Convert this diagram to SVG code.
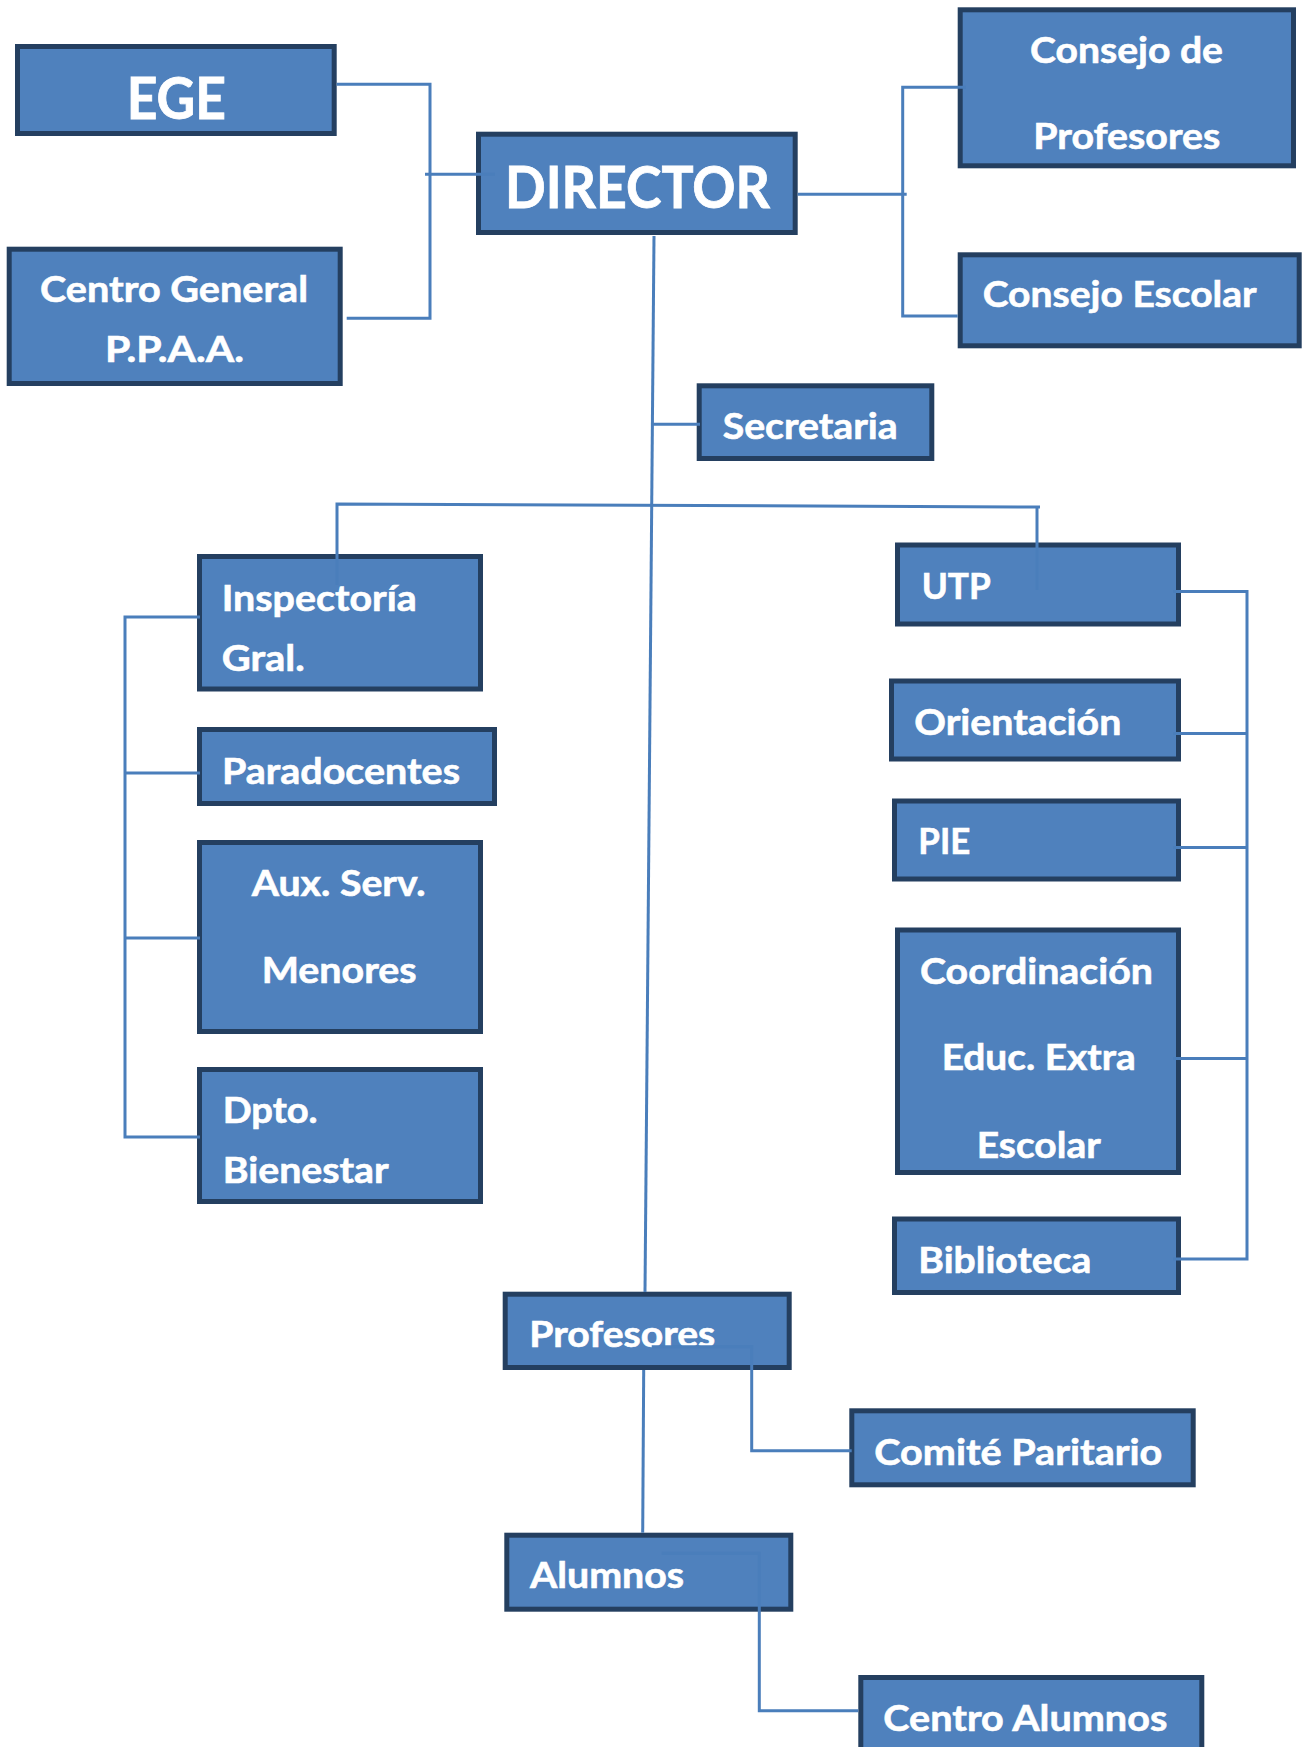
<svg xmlns="http://www.w3.org/2000/svg" width="1305" height="1747" viewBox="0 0 1305 1747">
<style>
.box{fill:#4F81BD;stroke:#243F60;stroke-width:5}
.t{font-family:Lato,"Open Sans","Liberation Sans",sans-serif;font-weight:bold;fill:#FFFFFF;stroke:#FFFFFF;stroke-width:0.6;font-size:37px}
.big{font-size:57px;stroke-width:0.8}
.c{fill:none;stroke:#4A7EBB;stroke-width:3}
</style>
<rect width="1305" height="1747" fill="#FFFFFF"/>
<g id="ege"><rect class="box" x="17.5" y="46.5" width="316.7" height="87"/><text class="t big" x="126.7" y="119.3" textLength="99.3" lengthAdjust="spacingAndGlyphs">EGE</text></g>
<g id="director"><rect class="box" x="478.5" y="134.2" width="316.7" height="98.3"/><text class="t big" x="505" y="207.5" textLength="265" lengthAdjust="spacingAndGlyphs">DIRECTOR</text></g>
<g id="centro-general"><rect class="box" x="9.2" y="249.2" width="331" height="134.3"/><text class="t" x="40" y="301.7" textLength="268" lengthAdjust="spacingAndGlyphs">Centro General</text><text class="t" x="105" y="361.7" textLength="139" lengthAdjust="spacingAndGlyphs">P.P.A.A.</text></g>
<g id="consejo-profesores"><rect class="box" x="960.2" y="9.8" width="333.3" height="156"/><text class="t" x="1030" y="62.7" textLength="193" lengthAdjust="spacingAndGlyphs">Consejo de</text><text class="t" x="1033.3" y="149" textLength="187" lengthAdjust="spacingAndGlyphs">Profesores</text></g>
<g id="consejo-escolar"><rect class="box" x="960.2" y="254.8" width="339" height="91"/><text class="t" x="982.7" y="306.7" textLength="274" lengthAdjust="spacingAndGlyphs">Consejo Escolar</text></g>
<g id="secretaria"><rect class="box" x="699.2" y="385.8" width="232.6" height="72.7"/><text class="t" x="722.7" y="438.5" textLength="175" lengthAdjust="spacingAndGlyphs">Secretaria</text></g>
<g id="inspectoria"><rect class="box" x="199.5" y="556.5" width="281" height="132.5"/><text class="t" x="221.7" y="611" textLength="195" lengthAdjust="spacingAndGlyphs">Inspectoría</text><text class="t" x="221.7" y="671" textLength="83" lengthAdjust="spacingAndGlyphs">Gral.</text></g>
<g id="paradocentes"><rect class="box" x="199.5" y="729.5" width="295" height="74"/><text class="t" x="222" y="784" textLength="238" lengthAdjust="spacingAndGlyphs">Paradocentes</text></g>
<g id="aux-serv"><rect class="box" x="199.5" y="842.5" width="281" height="189"/><text class="t" x="251.7" y="895.5" textLength="174" lengthAdjust="spacingAndGlyphs">Aux. Serv.</text><text class="t" x="261.7" y="983" textLength="155" lengthAdjust="spacingAndGlyphs">Menores</text></g>
<g id="dpto-bienestar"><rect class="box" x="199.5" y="1069.5" width="281" height="132"/><text class="t" x="222.7" y="1123" textLength="95" lengthAdjust="spacingAndGlyphs">Dpto.</text><text class="t" x="222.7" y="1183" textLength="166" lengthAdjust="spacingAndGlyphs">Bienestar</text></g>
<g id="utp"><rect class="box" x="897.5" y="545" width="281" height="79"/><text class="t" x="921.7" y="599" textLength="69" lengthAdjust="spacingAndGlyphs">UTP</text></g>
<g id="orientacion"><rect class="box" x="891.5" y="681" width="287" height="78"/><text class="t" x="914.3" y="735" textLength="207" lengthAdjust="spacingAndGlyphs">Orientación</text></g>
<g id="pie"><rect class="box" x="894.5" y="801" width="284" height="78"/><text class="t" x="918.3" y="853.5" textLength="52" lengthAdjust="spacingAndGlyphs">PIE</text></g>
<g id="coordinacion"><rect class="box" x="897.5" y="930" width="281" height="242.5"/><text class="t" x="920" y="984" textLength="233" lengthAdjust="spacingAndGlyphs">Coordinación</text><text class="t" x="941.7" y="1070" textLength="194" lengthAdjust="spacingAndGlyphs">Educ. Extra</text><text class="t" x="976.7" y="1157.5" textLength="124" lengthAdjust="spacingAndGlyphs">Escolar</text></g>
<g id="biblioteca"><rect class="box" x="894.5" y="1219" width="284" height="73.5"/><text class="t" x="918.3" y="1272.5" textLength="173" lengthAdjust="spacingAndGlyphs">Biblioteca</text></g>
<g id="profesores"><rect class="box" x="505.2" y="1294.2" width="284" height="73.3"/><text class="t" x="529.3" y="1346.7" textLength="186" lengthAdjust="spacingAndGlyphs">Profesores</text></g>
<g id="comite"><rect class="box" x="851.8" y="1410.8" width="341.4" height="74"/><text class="t" x="874.3" y="1465" textLength="288" lengthAdjust="spacingAndGlyphs">Comité Paritario</text></g>
<g id="alumnos"><rect class="box" x="506.8" y="1535.2" width="284" height="74"/><text class="t" x="530" y="1588.3" textLength="154" lengthAdjust="spacingAndGlyphs">Alumnos</text></g>
<g id="centro-alumnos"><rect class="box" x="860.8" y="1677.5" width="341" height="100"/><text class="t" x="883.3" y="1730.7" textLength="284" lengthAdjust="spacingAndGlyphs">Centro Alumnos</text></g>
<g id="connectors">
<path class="c" d="M336.7,84.3 H430 V318.3 H346.7"/>
<path class="c" d="M425,174.3 H495"/>
<path class="c" d="M797.7,194.3 H906.7"/>
<path class="c" d="M966,87.3 H902.7 V316 H957.7"/>
<path class="c" d="M654,236 L645,1292"/>
<path class="c" d="M652.5,424.3 H700"/>
<path class="c" d="M337,585 V504 L1040,507"/>
<path class="c" d="M1037,507 V590"/>
<path class="c" d="M200,617 H125 V1137 H200"/>
<path class="c" d="M125,773 H200 M125,938 H200"/>
<path class="c" d="M1173,591.5 H1247 V1259 H1173"/>
<path class="c" d="M1173,733.5 H1247 M1173,847.5 H1247 M1173,1058.5 H1247"/>
<path class="c" d="M651.7,1346.7 H751.7 V1450.7 H851.7"/>
<path class="c" d="M643.7,1370 L642.7,1532.7"/>
<path class="c" d="M661.7,1553.3 H759.3 V1710.7 H858.3"/>
</g>
</svg>
